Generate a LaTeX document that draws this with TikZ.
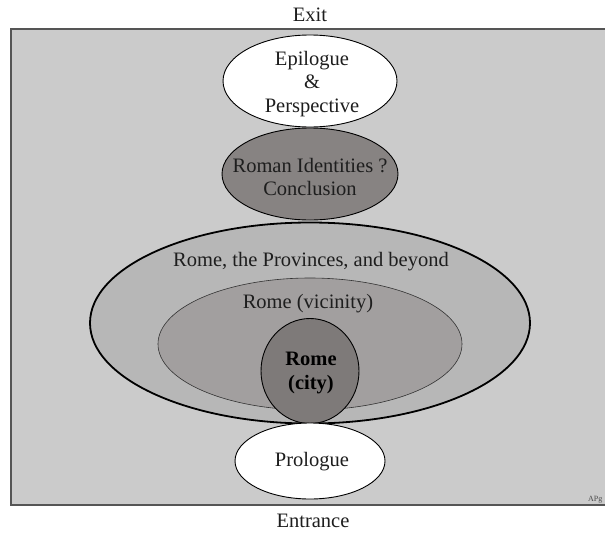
\documentclass[tikz,border=0pt]{standalone}
\usepackage{fontspec}
\setmainfont{Liberation Serif}
\usetikzlibrary{shapes.geometric}
\definecolor{bgc}{HTML}{CBCBCB}
\definecolor{worldc}{HTML}{B7B7B7}
\definecolor{vicc}{HTML}{A29F9F}
\definecolor{cityc}{HTML}{7E7A79}
\definecolor{romc}{HTML}{878382}
\definecolor{txtc}{HTML}{1E1E1E}
\definecolor{framec}{HTML}{555555}
\tikzset{
  oval/.style={ellipse, draw=black, line width=0.9pt, inner sep=0pt},
  lbl/.style={text=txtc, inner sep=0pt, font=\fontsize{20.5}{23.5}\selectfont, align=center},
}
\begin{document}
\begin{tikzpicture}[x=1pt,y=-1pt]
\useasboundingbox (0,0) rectangle (605,533);
\fill[white] (0,0) rectangle (605,533);
\draw[framec, line width=1.4pt, fill=bgc] (620,29) -- (11,29) -- (11,505) -- (620,505);
% ellipses
\node[oval, line width=1.8pt, fill=worldc, minimum width=440, minimum height=201] (world) at (310,323) {};
\node[oval, draw=black!80, line width=0.6pt, fill=vicc, minimum width=304, minimum height=132] (vic) at (310,344) {};
\node[oval, fill=cityc, minimum width=98, minimum height=105] (city) at (310,371) {};
\node[oval, fill=romc, minimum width=176, minimum height=92] (roman) at (310,174) {};
\node[oval, fill=white, minimum width=174, minimum height=92] (epi) at (310,81) {};
\node[oval, fill=white, minimum width=150, minimum height=76] (pro) at (310,461) {};
% labels
\node[lbl] (exit) at (310,15) {Exit};
\node[lbl] (entr) at (313,521) {Entrance};
\node[lbl] (epilbl) at (312,84) {Epilogue\\\&\\Perspective};
\node[lbl] (romlbl) at (310,177) {Roman Identities ?\\Conclusion};
\node[lbl] (worldlbl) at (311,262) {Rome, the Provinces, and beyond};
\node[lbl] (viclbl) at (308,304) {Rome (vicinity)};
\node[lbl, text=black, font=\fontsize{20.5}{23.5}\selectfont\bfseries] (citylbl) at (311,373) {Rome\\(city)};
\node[lbl] (prolbl) at (312,462) {Prologue};
\node[text=black!70, inner sep=0pt, anchor=west, font=\fontsize{8}{9}\selectfont] (apg) at (588,500) {APg};
\end{tikzpicture}
\end{document}
